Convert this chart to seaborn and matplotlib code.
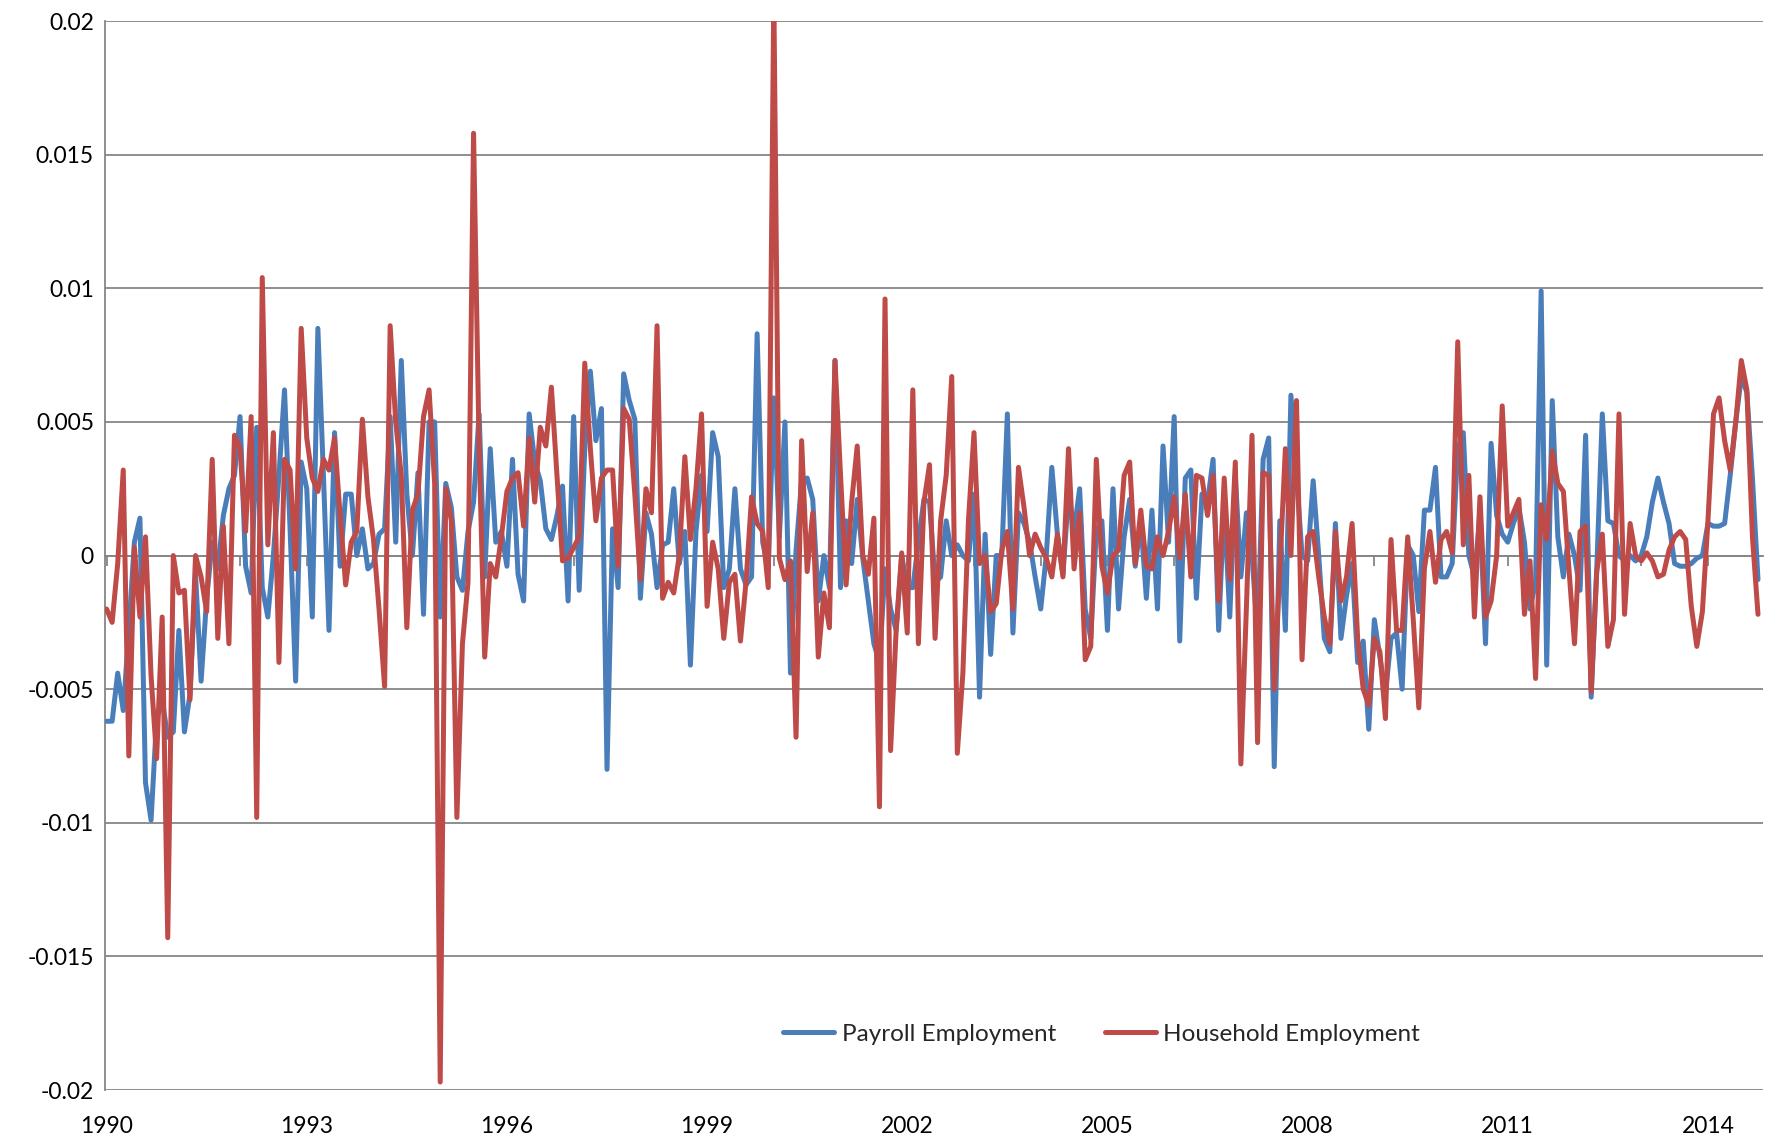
import numpy as np
import pandas as pd
import seaborn as sns
import matplotlib.pyplot as plt

# Monthly growth rates, Jan 1990 onwards
payroll = [
    -0.0062, -0.0062, -0.0044, -0.0058, -0.0028, 0.0005, 0.0014, -0.0085, -0.0099, -0.0061,
    -0.0054, -0.0068, -0.0066, -0.0028, -0.0066, -0.0052, -0.0007, -0.0047, -0.0016, 0.0005,
    -0.0005, 0.0015, 0.0025, 0.0030, 0.0052,
    -0.0004, -0.0014, 0.0048, -0.0012, -0.0023, 0.0000, 0.0030, 0.0062, 0.0010, -0.0047,
    0.0035, 0.0025, -0.0023, 0.0085, 0.0030, -0.0028, 0.0046, -0.0004, 0.0023, 0.0023,
    0.0000, 0.0010, -0.0005, -0.0003, 0.0008,
    0.0010, 0.0052, 0.0005, 0.0073, 0.0023, 0.0000, 0.0031, -0.0022, 0.0050, 0.0050,
    -0.0023, 0.0027, 0.0018, -0.0008, -0.0013, 0.0009, 0.0020, 0.0053, -0.0008, 0.0040,
    0.0005, 0.0009, -0.0004, 0.0036, -0.0007,
    -0.0017, 0.0053, 0.0035, 0.0028, 0.0010, 0.0006, 0.0015, 0.0026, -0.0017, 0.0052,
    -0.0013, 0.0040, 0.0069, 0.0043, 0.0055, -0.0080, 0.0010, -0.0012, 0.0068, 0.0058,
    0.0051, -0.0016, 0.0016, 0.0008, -0.0012,
    0.0004, 0.0005, 0.0025, -0.0003, 0.0009, -0.0041, 0.0009, 0.0030, 0.0009, 0.0046,
    0.0037, -0.0012, -0.0005, 0.0025, -0.0005, -0.0011, -0.0008, 0.0083, 0.0005, -0.0005,
    0.0059, 0.0007, 0.0050, -0.0044,
    0.0002, 0.0028, 0.0029, 0.0021, -0.0017, 0.0000, -0.0012, 0.0073, -0.0012, 0.0013,
    -0.0003, 0.0021, -0.0001, -0.0017, -0.0033, -0.0040, -0.0005, -0.0020, -0.0028, 0.0000,
    -0.0012, -0.0012, 0.0005, 0.0021, 0.0020,
    -0.0010, -0.0008, 0.0013, 0.0000, 0.0004, 0.0000, -0.0002, 0.0023, -0.0053, 0.0008,
    -0.0037, 0.0000, 0.0000, 0.0053, -0.0029, 0.0016, 0.0012, 0.0005, -0.0008, -0.0020,
    0.0000, 0.0033, 0.0008, -0.0007, 0.0023,
    0.0009, 0.0025, -0.0020, -0.0031, 0.0009, 0.0013, -0.0028, 0.0025, -0.0020, 0.0007,
    0.0021, -0.0004, 0.0013, -0.0016, 0.0017, -0.0020, 0.0041, 0.0005, 0.0052, -0.0032,
    0.0029, 0.0032, -0.0016, 0.0023, 0.0020,
    0.0036, -0.0028, 0.0020, -0.0023, 0.0030, -0.0008, 0.0016, 0.0000, -0.0030, 0.0036,
    0.0044, -0.0079, 0.0013, -0.0028, 0.0060, 0.0030, 0.0000, -0.0002, 0.0028, 0.0000,
    -0.0031, -0.0036, 0.0012, -0.0031, -0.0015,
    -0.0003, -0.0040, -0.0032, -0.0065, -0.0024, -0.0038, -0.0052, -0.0031, -0.0029, -0.0050,
    0.0004, 0.0000, -0.0021, 0.0017, 0.0017, 0.0033, -0.0008, -0.0008, -0.0003, 0.0040,
    0.0046, 0.0000, -0.0008, 0.0015,
    -0.0033, 0.0042, 0.0015, 0.0008, 0.0005, 0.0012, 0.0018, 0.0005, -0.0020, -0.0010,
    0.0099, -0.0041, 0.0058, 0.0007, -0.0008, 0.0008, 0.0000, -0.0013, 0.0045, -0.0053,
    -0.0005, 0.0053, 0.0013, 0.0012, 0.0000,
    -0.0002, 0.0000, -0.0002, 0.0000, 0.0007, 0.0020, 0.0029, 0.0020, 0.0012, -0.0003,
    -0.0004, -0.0004, -0.0003, -0.0001, 0.0000, 0.0012, 0.0011, 0.0011, 0.0012, 0.0030,
    0.0050, 0.0067, 0.0061, 0.0029, -0.0009,
]

household = [
    -0.0020, -0.0025, -0.0003, 0.0032, -0.0075, 0.0003, -0.0023, 0.0007, -0.0045, -0.0076,
    -0.0023, -0.0143, 0.0000, -0.0014, -0.0013, -0.0054, 0.0000, -0.0008, -0.0021, 0.0036,
    -0.0031, 0.0011, -0.0033, 0.0045, 0.0040,
    0.0009, 0.0052, -0.0098, 0.0104, 0.0004, 0.0046, -0.0040, 0.0036, 0.0032, -0.0005,
    0.0085, 0.0044, 0.0029, 0.0024, 0.0036, 0.0032, 0.0044, 0.0015, -0.0011, 0.0005,
    0.0009, 0.0051, 0.0022, 0.0006, -0.0020,
    -0.0049, 0.0086, 0.0050, 0.0030, -0.0027, 0.0017, 0.0023, 0.0052, 0.0062, 0.0027,
    -0.0197, 0.0025, 0.0013, -0.0098, -0.0033, -0.0010, 0.0158, 0.0040, -0.0038, -0.0003,
    -0.0008, 0.0007, 0.0024, 0.0029, 0.0031,
    0.0011, 0.0044, 0.0020, 0.0048, 0.0041, 0.0063, 0.0030, -0.0002, -0.0001, 0.0003,
    0.0007, 0.0072, 0.0040, 0.0013, 0.0029, 0.0032, 0.0032, -0.0004, 0.0055, 0.0051,
    0.0023, -0.0009, 0.0025, 0.0016, 0.0086,
    -0.0016, -0.0010, -0.0014, 0.0000, 0.0037, 0.0006, 0.0025, 0.0053, -0.0019, 0.0005,
    -0.0005, -0.0031, -0.0010, -0.0007, -0.0032, -0.0010, 0.0022, 0.0012, 0.0009, -0.0012,
    0.0210, -0.0001, -0.0009, -0.0002,
    -0.0068, 0.0043, -0.0006, 0.0016, -0.0038, -0.0014, -0.0027, 0.0073, 0.0030, -0.0011,
    0.0020, 0.0041, 0.0000, -0.0007, 0.0014, -0.0094, 0.0096, -0.0073, -0.0028, 0.0001,
    -0.0029, 0.0062, -0.0033, 0.0020, 0.0034,
    -0.0031, 0.0013, 0.0030, 0.0067, -0.0074, -0.0044, 0.0013, 0.0046, -0.0003, 0.0000,
    -0.0021, -0.0018, 0.0002, 0.0009, -0.0020, 0.0033, 0.0018, 0.0000, 0.0008, 0.0003,
    -0.0001, -0.0008, 0.0008, -0.0008, 0.0040,
    -0.0005, 0.0016, -0.0039, -0.0034, 0.0036, -0.0004, -0.0014, 0.0000, 0.0002, 0.0030,
    0.0035, -0.0003, 0.0017, -0.0004, -0.0005, 0.0007, 0.0000, 0.0009, 0.0022, -0.0001,
    0.0023, -0.0008, 0.0030, 0.0029, 0.0015,
    0.0030, -0.0017, 0.0029, -0.0009, 0.0035, -0.0078, -0.0019, 0.0045, -0.0070, 0.0031,
    0.0030, -0.0050, -0.0005, 0.0040, 0.0000, 0.0058, -0.0039, 0.0007, 0.0009, -0.0008,
    -0.0023, -0.0033, 0.0009, -0.0017, -0.0008,
    0.0012, -0.0031, -0.0050, -0.0056, -0.0031, -0.0036, -0.0061, 0.0006, -0.0028, -0.0028,
    0.0007, -0.0024, -0.0057, -0.0005, 0.0009, -0.0010, 0.0006, 0.0009, 0.0001, 0.0080,
    0.0004, 0.0030, -0.0023, 0.0022,
    -0.0023, -0.0017, 0.0000, 0.0056, 0.0011, 0.0016, 0.0021, -0.0022, -0.0002, -0.0046,
    0.0019, 0.0006, 0.0039, 0.0027, 0.0024, -0.0005, -0.0033, 0.0009, 0.0011, -0.0051,
    -0.0006, 0.0008, -0.0034, -0.0024, 0.0053,
    -0.0022, 0.0012, 0.0000, -0.0002, 0.0001, -0.0002, -0.0008, -0.0007, 0.0002, 0.0007,
    0.0009, 0.0006, -0.0019, -0.0034, -0.0021, 0.0013, 0.0053, 0.0059, 0.0043, 0.0032,
    0.0050, 0.0073, 0.0062, 0.0007, -0.0022,
]

year_labels = ['1990', '1993', '1996', '1999', '2002', '2005', '2008', '2011', '2014']
y_ticks = [-0.02, -0.015, -0.01, -0.005, 0, 0.005, 0.01, 0.015, 0.02]
y_labels = ['-0.02', '-0.015', '-0.01', '-0.005', '0', '0.005', '0.01', '0.015', '0.02']

month = np.arange(len(payroll))
df = pd.DataFrame({
    'month': np.concatenate([month, month]),
    'value': payroll + household,
    'series': ['Payroll Employment'] * len(payroll) + ['Household Employment'] * len(household),
})

sns.set_style('white')
plt.rcParams['font.family'] = ['Lato', 'DejaVu Sans']
grid_col = '#868686'

fig = plt.figure(figsize=(17.66, 11.39), dpi=100)
ax = fig.add_axes([0.0595, 0.043, 0.9388, 0.9385])

sns.lineplot(data=df, x='month', y='value', hue='series',
             palette={'Payroll Employment': '#4A7EBB', 'Household Employment': '#BE4B48'},
             linewidth=3.6, ax=ax, zorder=3)

ax.set_ylim(-0.02, 0.02)
ax.set_xlim(-0.27, 297.9)
ax.set_yticks(y_ticks)
ax.set_yticklabels(y_labels)
ax.set_xticks(np.arange(0, 36 * len(year_labels), 36))
ax.set_xticklabels(year_labels)
ax.set_xlabel('')
ax.set_ylabel('')
ax.yaxis.grid(True, color=grid_col, lw=1.3)
ax.set_axisbelow(True)
ax.tick_params(axis='both', length=0, labelsize=16.5, colors='black')
ax.tick_params(axis='x', pad=19)
ax.tick_params(axis='y', pad=8)
for s in ['top', 'right', 'bottom']:
    ax.spines[s].set_visible(False)
ax.spines['left'].set_color(grid_col)
ax.spines['left'].set_linewidth(1.3)

# small yearly tick marks hanging below the zero line
sec = ax.secondary_xaxis(0.4999)
sec.set_xticks(np.arange(0, len(payroll), 12))
sec.set_xticklabels([])
sec.tick_params(length=7, width=1.3, color=grid_col, direction='out')
sec.spines['bottom'].set_color(grid_col)
sec.spines['bottom'].set_linewidth(1.3)

ax.legend(loc='center', bbox_to_anchor=(0.601, 0.052), ncol=2, frameon=False,
          fontsize=17.5, handlelength=2.1, handletextpad=0.3, columnspacing=2.0)

fig.savefig('out.png', dpi=100)
